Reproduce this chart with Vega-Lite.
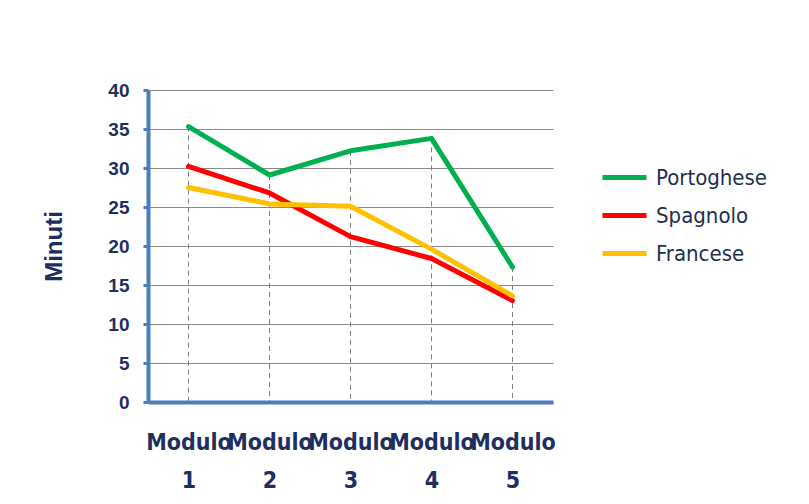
{
  "$schema": "https://vega.github.io/schema/vega-lite/v6.json",
  "autosize": {"type": "none"},
  "padding": {"left": 148, "top": 90, "right": 256, "bottom": 102},
  "width": 405,
  "height": 312,
  "background": "white",
  "config": {"view": {"stroke": null}},
  "data": {
    "values": [
      {"modulo": "Modulo 1", "lingua": "Portoghese", "minuti": 35.3},
      {"modulo": "Modulo 2", "lingua": "Portoghese", "minuti": 29.1},
      {"modulo": "Modulo 3", "lingua": "Portoghese", "minuti": 32.2},
      {"modulo": "Modulo 4", "lingua": "Portoghese", "minuti": 33.8},
      {"modulo": "Modulo 5", "lingua": "Portoghese", "minuti": 17.3},
      {"modulo": "Modulo 1", "lingua": "Spagnolo", "minuti": 30.2},
      {"modulo": "Modulo 2", "lingua": "Spagnolo", "minuti": 26.8},
      {"modulo": "Modulo 3", "lingua": "Spagnolo", "minuti": 21.2},
      {"modulo": "Modulo 4", "lingua": "Spagnolo", "minuti": 18.4},
      {"modulo": "Modulo 5", "lingua": "Spagnolo", "minuti": 13.0},
      {"modulo": "Modulo 1", "lingua": "Francese", "minuti": 27.5},
      {"modulo": "Modulo 2", "lingua": "Francese", "minuti": 25.4},
      {"modulo": "Modulo 3", "lingua": "Francese", "minuti": 25.1},
      {"modulo": "Modulo 4", "lingua": "Francese", "minuti": 19.6},
      {"modulo": "Modulo 5", "lingua": "Francese", "minuti": 13.6}
    ]
  },
  "encoding": {
    "x": {
      "field": "modulo", "type": "ordinal", "sort": null,
      "scale": {"type": "point", "padding": 0.5},
      "axis": {
        "title": null,
        "labelAngle": 0,
        "labelAlign": "center",
        "labelExpr": "split(datum.label, ' ')",
        "labelFont": "DejaVu Sans Condensed",
        "labelFontSize": 23,
        "labelFontWeight": "bold",
        "labelColor": "#1f2f5f",
        "labelLineHeight": 38,
        "labelPadding": 29,
        "labelBaseline": "top",
        "labelOverlap": false,
        "ticks": false,
        "grid": false,
        "domainColor": "#4a7ebb",
        "domainWidth": 4
      }
    },
    "y": {
      "field": "minuti", "type": "quantitative",
      "scale": {"domain": [0, 40], "nice": false},
      "axis": {
        "title": "Minuti",
        "titleFont": "Liberation Sans",
        "titleFontSize": 24,
        "titleFontWeight": "bold",
        "titleColor": "#1f2f5f",
        "titlePadding": 41,
        "values": [0, 5, 10, 15, 20, 25, 30, 35, 40],
        "labelOverlap": false,
        "labelFont": "Liberation Sans",
        "labelFontSize": 19,
        "labelFontWeight": "bold",
        "labelColor": "#1f2f5f",
        "labelPadding": 14,
        "tickSize": 5,
        "tickWidth": 3,
        "tickColor": "#4a7ebb",
        "domainColor": "#4a7ebb",
        "domainWidth": 4,
        "grid": true,
        "gridColor": "#8a8a8a",
        "gridWidth": 1
      }
    }
  },
  "layer": [
    {
      "transform": [{"aggregate": [{"op": "max", "field": "minuti", "as": "minuti"}], "groupby": ["modulo"]}],
      "mark": {"type": "rule", "color": "#7f7f7f", "strokeWidth": 1, "strokeDash": [5, 4]},
      "encoding": {
        "y2": {"datum": 0}
      }
    },
    {
      "mark": {"type": "line", "strokeWidth": 5, "strokeCap": "round", "strokeJoin": "round"},
      "encoding": {
        "color": {
          "field": "lingua", "type": "nominal",
          "scale": {"domain": ["Portoghese", "Spagnolo", "Francese"], "range": ["#00b050", "#ff0000", "#ffc000"]},
          "legend": {
            "title": null,
            "orient": "none",
            "legendX": 452,
            "legendY": 63,
            "symbolType": "stroke",
            "symbolSize": 1936,
            "symbolStrokeWidth": 5,
            "labelFont": "DejaVu Sans Condensed",
            "labelFontSize": 22,
            "labelColor": "#1f2f4f",
            "labelOffset": 7,
            "rowPadding": 2
          }
        }
      }
    }
  ]
}
